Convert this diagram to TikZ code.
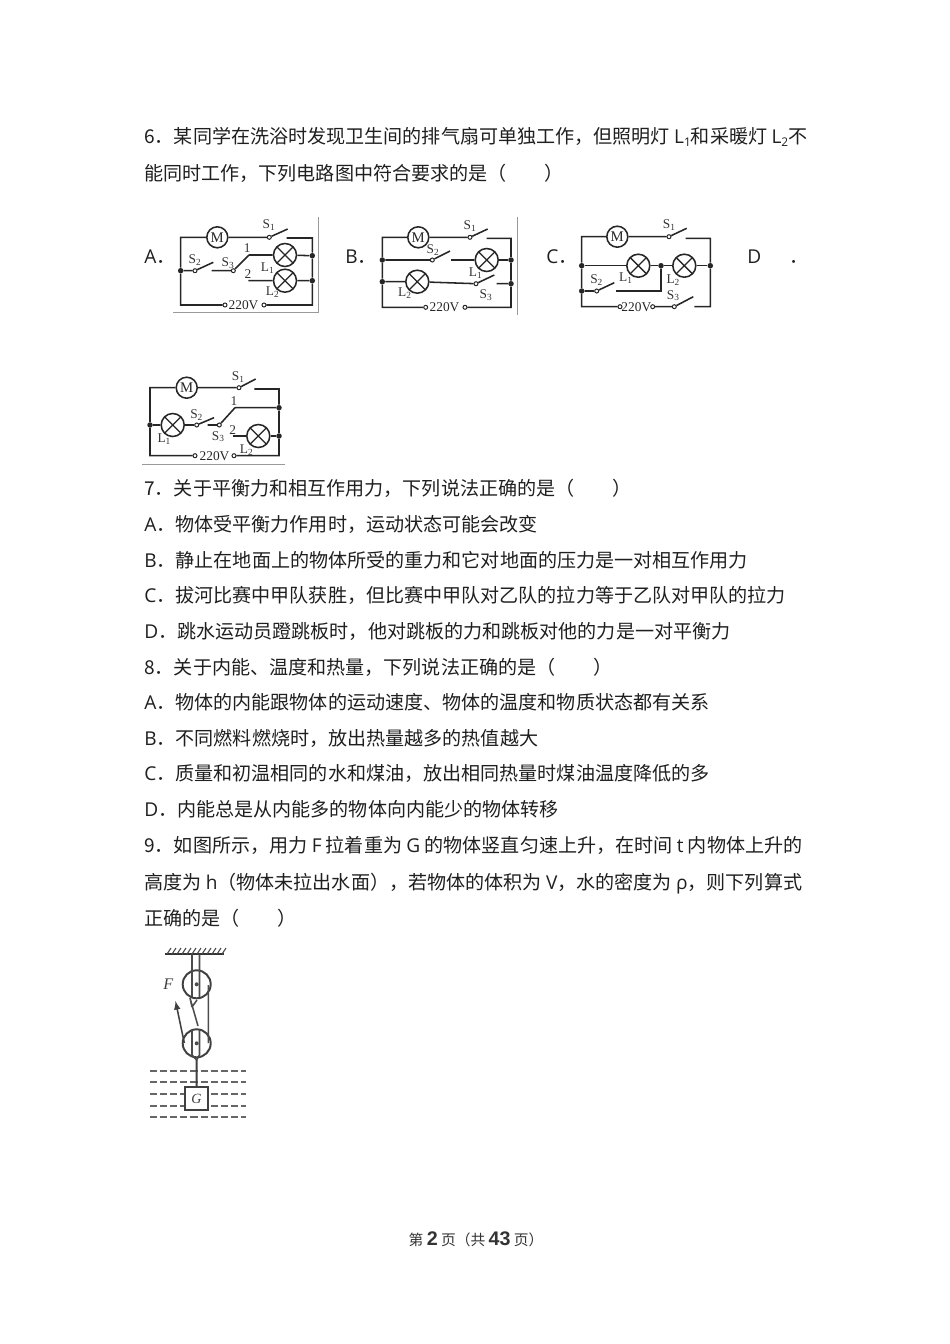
\documentclass[tikz,border=0pt]{standalone}
\usepackage{fontspec}
\setmainfont{Open Sans}
\newfontfamily\cjk{Noto Sans CJK SC}
\newfontfamily\figrm{Liberation Serif}
\newfontfamily\foot{Liberation Sans}
\newcommand{\Sub}[2]{#1\textsubscript{#2}}
\newcommand{\Lat}[1]{{\rmfamily #1}}
\newcommand{\Lsub}[2]{{\rmfamily #1\raisebox{-0.25ex}{\fontsize{8.5}{9}\selectfont #2}}}
\begin{document}
\begin{tikzpicture}[
		x=0.25mm, y=-0.25mm,
		txt/.style={anchor=base west, inner sep=0pt, yshift=-0.7pt, black!88, font=\fontsize{13.57}{16}\selectfont\cjk},
		wire/.style={line width=1.1pt, black!85},
		motor/.style={circle, draw, line width=1.1pt, black!85, fill=white, minimum size=21*0.25mm, inner sep=0pt, font=\fontsize{10.5}{11}\selectfont\figrm},
		lamp/.style={circle, draw, line width=1.1pt, black!85, fill=white, minimum size=23*0.25mm, inner sep=0pt,
				path picture={\draw[line width=0.9pt] (path picture bounding box.north west) -- (path picture bounding box.south east) (path picture bounding box.north east) -- (path picture bounding box.south west);}},
		term/.style={circle, draw, line width=0.7pt, black!85, fill=white, minimum size=4*0.25mm, inner sep=0pt},
		jn/.style={circle, fill=black!85, minimum size=5.5*0.25mm, inner sep=0pt},
		lbl/.style={inner sep=0pt, black!80, font=\fontsize{9.5}{10}\selectfont\figrm},
		volt/.style={inner sep=0pt, black!85, font=\fontsize{9.5}{10}\selectfont\figrm},
		edge line/.style={line width=0.6pt, black!40},
		pulley/.style={circle, draw, line width=1.4pt, black!75, minimum size=28*0.25mm, inner sep=0pt},
		rope/.style={line width=1.1pt, black!70},
	]
	\path[use as bounding box] (0,0) rectangle (950,1344);

	\node[txt] (q6a) at (144,143) {6．某同学在洗浴时发现卫生间的排气扇可单独工作，但照明灯 \Lsub{L}{1}和采暖灯 \Lsub{L}{2}不};
	\node[txt] (q6b) at (144,180) {能同时工作，下列电路图中符合要求的是（\hspace{2em}）};
	\node[txt] (optA) at (144,263) {\Lat{A}．};
	\node[txt] (optB) at (345,263) {\Lat{B}．};
	\node[txt] (optC) at (546,263) {\Lat{C}．};
	\node[txt] (optD) at (747,263) {\Lat{D}\hspace{20pt}．};

	\node[txt] (q7) at (144,495) {7．关于平衡力和相互作用力，下列说法正确的是（\hspace{2em}）};
	\node[txt] (q7a) at (144,531) {\Lat{A}．物体受平衡力作用时，运动状态可能会改变};
	\node[txt] (q7b) at (144,567) {\Lat{B}．静止在地面上的物体所受的重力和它对地面的压力是一对相互作用力};
	\node[txt] (q7c) at (144,602) {\Lat{C}．拔河比赛中甲队获胜，但比赛中甲队对乙队的拉力等于乙队对甲队的拉力};
	\node[txt] (q7d) at (144,638) {\Lat{D}．跳水运动员蹬跳板时，他对跳板的力和跳板对他的力是一对平衡力};
	\node[txt] (q8) at (144,674) {8．关于内能、温度和热量，下列说法正确的是（\hspace{2em}）};
	\node[txt] (q8a) at (144,709) {\Lat{A}．物体的内能跟物体的运动速度、物体的温度和物质状态都有关系};
	\node[txt] (q8b) at (144,745) {\Lat{B}．不同燃料燃烧时，放出热量越多的热值越大};
	\node[txt] (q8c) at (144,780) {\Lat{C}．质量和初温相同的水和煤油，放出相同热量时煤油温度降低的多};
	\node[txt] (q8d) at (144,816) {\Lat{D}．内能总是从内能多的物体向内能少的物体转移};
	\node[txt] (q9a) at (144,852) {9．如图所示，用力 \Lat{F} 拉着重为 \Lat{G} 的物体竖直匀速上升，在时间 \Lat{t} 内物体上升的};
	\node[txt] (q9b) at (144,889) {高度为 \Lat{h}（物体未拉出水面），若物体的体积为 \Lat{V}，水的密度为 \Lat{ρ}，则下列算式};
	\node[txt] (q9c) at (144,925) {正确的是（\hspace{2em}）};

	\node[anchor=base, inner sep=0pt, black!80, font=\fontsize{10.5}{12}\selectfont\cjk] (pageno) at (476,1245) {第 {\foot\bfseries\fontsize{14}{12}\selectfont 2} 页（共 {\foot\bfseries\fontsize{14}{12}\selectfont 43} 页）};

	% A
	\draw[edge line] (173,312.7) -- (318,312.7) -- (318,217);
	\node[motor] (aM) at (217.3,237.3) {M};
	\node[term] (aS1) at (269.3,237.3) {};
	\node[jn] (aJl) at (180.7,270.7) {};
	\node[term] (aS2) at (195,270.7) {};
	\node[term] (aS3) at (233.3,270.7) {};
	\node[lamp] (aL1) at (285,255) {};
	\node[lamp] (aL2) at (285,280.7) {};
	\node[jn] (aJ1) at (312.3,255.7) {};
	\node[jn] (aJ2) at (312.3,280.7) {};
	\node[term] (aT1) at (225,305) {};
	\node[term] (aT2) at (264,305) {};
	\node[volt] (aV) at (243.5,305) {220V};
	\coordinate (aS1t) at (287.7,229);
	\coordinate (aC1) at (286.7,238);
	\coordinate (aS2t) at (213.3,262.3);
	\coordinate (aC2) at (211.7,270.7);
	\coordinate (aP1) at (249,255);
	\coordinate (aP2) at (248.3,280.7);
	\draw[wire] (aM) -| (aJl) (aJl) |- (aT1) (aM) -- (aS1) (aS1) -- (aS1t) (aC1) -| (aJ1) (aJ1) -- (aJ2) (aJ2) |- (aT2);
	\draw[wire] (aJl) -- (aS2) (aS2) -- (aS2t) (aC2) -- (aS3) (aS3) -- (aP1) (aP1) -- (aL1) (aL1) -- (aJ1) (aP2) -- (aL2) (aL2) -- (aJ2);
	\node[lbl] (aS1l) at (269,225) {\Sub{S}{1}};
	\node[lbl] (aS2l) at (195,260) {\Sub{S}{2}};
	\node[lbl] (aS3l) at (228,263) {\Sub{S}{3}};
	\node[lbl] (aL1l) at (267.7,268) {\Sub{L}{1}};
	\node[lbl] (aL2l) at (272.7,292) {\Sub{L}{2}};
	\node[lbl] (aN1) at (247.3,248) {1};
	\node[lbl] (aN2) at (248,274) {2};

	% B
	\draw[edge line] (517,217) -- (517,315);
	\node[motor] (bM) at (418.3,237.3) {M};
	\node[term] (bS1) at (470,237.3) {};
	\node[jn] (bJa) at (382.3,260) {};
	\node[jn] (bJb) at (382.3,281.7) {};
	\node[term] (bS2) at (432.3,260) {};
	\node[lamp] (bL1) at (486.7,260) {};
	\node[lamp] (bL2) at (417.3,281.7) {};
	\node[term] (bS3) at (476,283.7) {};
	\node[jn] (bJc) at (511,260) {};
	\node[jn] (bJd) at (511,283.7) {};
	\node[term] (bT1) at (425.7,307.3) {};
	\node[term] (bT2) at (465,307.3) {};
	\node[volt] (bV) at (444.5,307.3) {220V};
	\coordinate (bS1t) at (487.7,229);
	\coordinate (bC1) at (486.7,238.3);
	\coordinate (bS2t) at (450,251);
	\coordinate (bC2) at (451,260);
	\coordinate (bS3t) at (494.3,275);
	\coordinate (bC3) at (496.7,283.7);
	\draw[wire] (bM) -| (bJa) (bJa) -- (bJb) (bJb) |- (bT1) (bM) -- (bS1) (bS1) -- (bS1t) (bC1) -| (bJc) (bJc) -- (bJd) (bJd) |- (bT2);
	\draw[wire] (bJa) -- (bS2) (bS2) -- (bS2t) (bC2) -- (bL1) (bL1) -- (bJc);
	\draw[wire] (bJb) -- (bL2) (bL2) -- (bS3) (bS3) -- (bS3t) (bC3) -- (bJd);
	\node[lbl] (bS1l) at (470,225.7) {\Sub{S}{1}};
	\node[lbl] (bS2l) at (433,250) {\Sub{S}{2}};
	\node[lbl] (bL1l) at (475.7,273.3) {\Sub{L}{1}};
	\node[lbl] (bL2l) at (405,293.3) {\Sub{L}{2}};
	\node[lbl] (bS3l) at (486,295) {\Sub{S}{3}};

	% C
	\node[motor] (cM) at (617.3,236.7) {M};
	\node[term] (cS1) at (669,236.7) {};
	\node[jn] (cJa) at (581.7,265.7) {};
	\node[jn] (cJb) at (581.7,291) {};
	\node[lamp] (cL1) at (638.3,265.7) {};
	\node[jn] (cJm) at (661,265.7) {};
	\node[lamp] (cL2) at (684.3,265.7) {};
	\node[jn] (cJr) at (710.3,265.7) {};
	\node[term] (cS2) at (596.7,291) {};
	\node[term] (cT1) at (620,306.7) {};
	\node[term] (cT2) at (652.7,306.7) {};
	\node[term] (cS3) at (674.3,306.7) {};
	\node[volt] (cV) at (636.3,306.7) {220V};
	\coordinate (cS1t) at (686.7,228.3);
	\coordinate (cC1) at (685.7,238.3);
	\coordinate (cS2t) at (614.3,282.7);
	\coordinate (cC2) at (616,291);
	\coordinate (cS3t) at (693.3,296.7);
	\coordinate (cC3) at (694.3,306.7);
	\draw[wire] (cM) -| (cJa) (cJa) -- (cJb) (cJb) |- (cT1) (cM) -- (cS1) (cS1) -- (cS1t) (cC1) -| (cJr) (cJr) |- (cC3);
	\draw[wire] (cJa) -- (cL1) (cL1) -- (cJm) (cJm) -- (cL2) (cL2) -- (cJr);
	\draw[wire] (cJb) -- (cS2) (cS2) -- (cS2t) (cC2) -| (cJm);
	\draw[wire] (cT2) -- (cS3) (cS3) -- (cS3t);
	\node[lbl] (cS1l) at (669.3,225) {\Sub{S}{1}};
	\node[lbl] (cS2l) at (596.7,280) {\Sub{S}{2}};
	\node[lbl] (cL1l) at (626,278.3) {\Sub{L}{1}};
	\node[lbl] (cL2l) at (673.3,280) {\Sub{L}{2}};
	\node[lbl] (cS3l) at (673.3,295.7) {\Sub{S}{3}};

	% D
	\draw[edge line] (142,464) -- (285,464);
	\node[motor] (dM) at (186.7,387.7) {M};
	\node[term] (dS1) at (239,387.7) {};
	\node[jn] (dJl) at (150,425) {};
	\node[lamp] (dL1) at (172.7,425) {};
	\node[term] (dS2) at (196.7,425) {};
	\node[term] (dS3) at (219.3,425) {};
	\node[jn] (dJa) at (279,407.7) {};
	\node[lamp] (dL2) at (258.3,436) {};
	\node[jn] (dJb) at (279,436) {};
	\node[term] (dT1) at (195,455.7) {};
	\node[term] (dT2) at (234,455.7) {};
	\node[volt] (dV) at (214.5,455.7) {220V};
	\coordinate (dS1t) at (255.7,379);
	\coordinate (dC1) at (254.3,389);
	\coordinate (dS2t) at (214,417.7);
	\coordinate (dC2) at (207.7,425);
	\coordinate (dP1) at (235,407.7);
	\coordinate (dP2) at (232.7,436);
	\draw[wire] (dM) -| (dJl) (dJl) |- (dT1) (dM) -- (dS1) (dS1) -- (dS1t) (dC1) -| (dJa) (dJa) -- (dJb) (dJb) |- (dT2);
	\draw[wire] (dJl) -- (dL1) (dL1) -- (dS2) (dS2) -- (dS2t) (dC2) -- (dS3) (dS3) -- (dP1) (dP1) -- (dJa);
	\draw[wire] (dP2) -- (dL2) (dL2) -- (dJb);
	\node[lbl] (dS1l) at (238.3,376.7) {\Sub{S}{1}};
	\node[lbl] (dS2l) at (196.7,415) {\Sub{S}{2}};
	\node[lbl] (dS3l) at (218.3,436.7) {\Sub{S}{3}};
	\node[lbl] (dL1l) at (164.3,439) {\Sub{L}{1}};
	\node[lbl] (dL2l) at (246.7,450) {\Sub{L}{2}};
	\node[lbl] (dN1) at (234,401) {1};
	\node[lbl] (dN2) at (232.7,430) {2};

	% pulleys
	\foreach \yy in {1071,1082.3,1094.3,1105.7,1116.7}
		\draw[line width=1.5pt, black!60, dash pattern=on 5pt off 2.2pt] (150,\yy) -- (246,\yy);
	\draw[line width=1.6pt, black!80] (165,954.3) -- (224,954.3);
	\foreach \xx in {167,172,...,222}
		\draw[line width=0.8pt, black!70] (\xx,954) -- ++(4,-6);
	\node[pulley] (pulU) at (196.7,984.3) {};
	\node[pulley] (pulL) at (196.7,1043.3) {};
	\fill[black!70] (pulU) circle (2);
	\fill[black!70] (pulL) circle (2);
	\node[draw, line width=1.5pt, black!75, fill=white, minimum size=23*0.25mm, inner sep=0pt, font=\fontsize{10}{11}\selectfont\figrm\itshape] (blockG) at (196.5,1098.7) {G};
	\node[inner sep=0pt, black!75, font=\fontsize{11.5}{12}\selectfont\figrm\itshape] (forceF) at (168.3,984.3) {F};
	\coordinate (topA) at (192,954.3);
	\coordinate (topB) at (199.5,954.3);
	\coordinate (armA) at (192,997);
	\coordinate (armB) at (199.5,997);
	\coordinate (lowA) at (192,1030);
	\coordinate (lowB) at (199.5,1030);
	\coordinate (lowC) at (192,1055);
	\coordinate (lowD) at (199.5,1055);
	\coordinate (hook) at (196.7,1060);
	\coordinate (ropeR) at (208.3,985);
	\coordinate (ropeS) at (208.3,1043);
	\coordinate (ropeP) at (184.3,1043);
	\coordinate (ropeQ) at (175.5,1001);
	\coordinate (ropeM) at (190,998);
	\coordinate (ropeN) at (198,1026);
	\coordinate (hkA) at (197,1000);
	\coordinate (hkB) at (192,1007);
	\draw[rope] (topA) -- (armA) (topB) -- (armB) (lowA) -- (lowC) (lowB) -- (lowD) (lowC) -- (hook) (lowD) -- (hook);
	\draw[rope] (ropeR) -- (ropeS) (ropeM) -- (ropeN) (hkA) -- (hkB) (hkB) -- (ropeM);
	\draw[rope, black!75, -latex] (ropeP) -- (ropeQ);
	\draw[line width=1.4pt, black!75] (hook) -- (blockG);
\end{tikzpicture}
\end{document}
